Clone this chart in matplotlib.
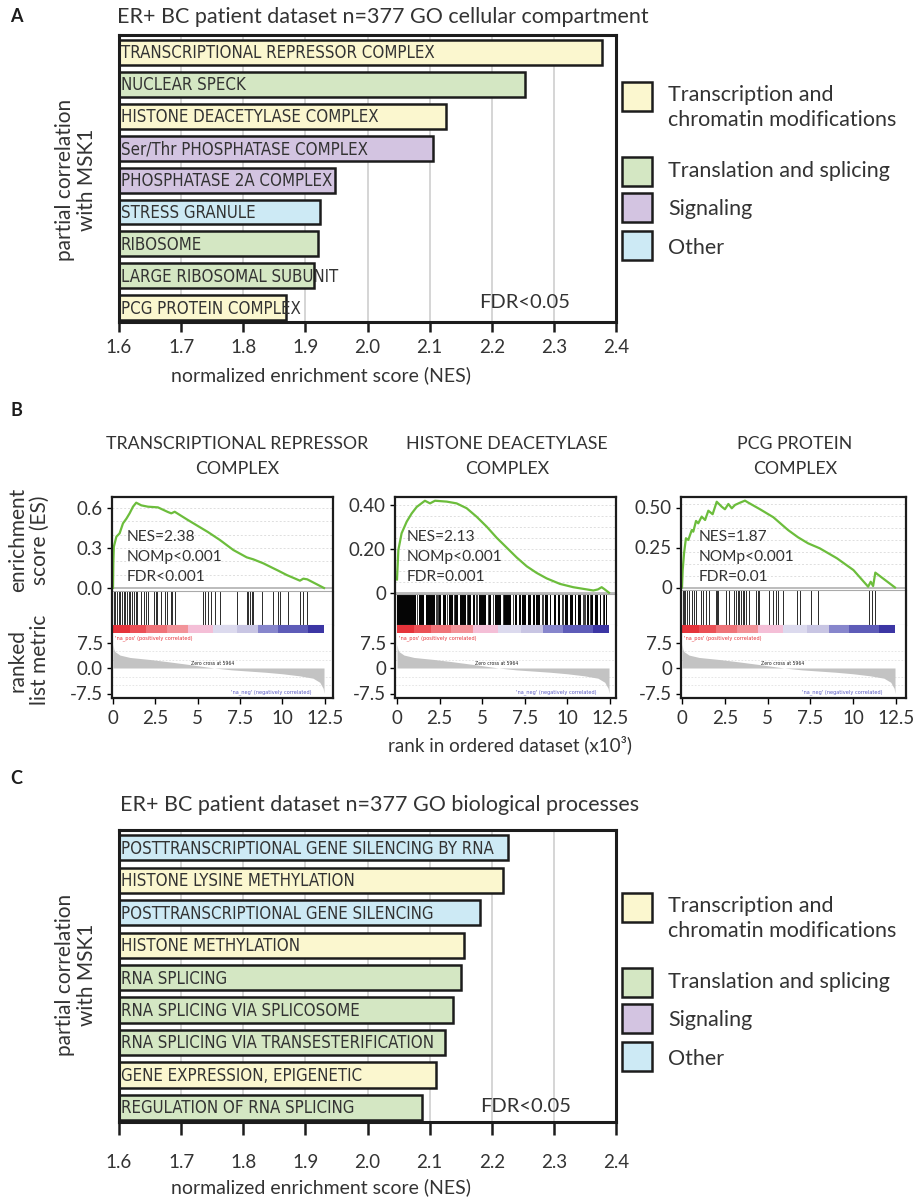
import matplotlib
matplotlib.use('Agg')
import matplotlib.pyplot as plt
from matplotlib.patches import Rectangle
import numpy as np

# ------------------------------------------------------------------ data
groups = ['Transcription and\nchromatin modifications', 'Translation and splicing', 'Signaling', 'Other']
group_colors = ['#fbf7cf', '#d4e7c3', '#d3c4e1', '#cdeaf5']

cc_terms = ['TRANSCRIPTIONAL REPRESSOR COMPLEX', 'NUCLEAR SPECK', 'HISTONE DEACETYLASE COMPLEX',
            'Ser/Thr PHOSPHATASE COMPLEX', 'PHOSPHATASE 2A COMPLEX', 'STRESS GRANULE', 'RIBOSOME',
            'LARGE RIBOSOMAL SUBUNIT', 'PCG PROTEIN COMPLEX']
cc_nes = [2.377, 2.254, 2.127, 2.106, 1.948, 1.924, 1.921, 1.914, 1.869]
cc_group = [0, 1, 0, 2, 2, 3, 1, 1, 0]

bp_terms = ['POSTTRANSCRIPTIONAL GENE SILENCING BY RNA', 'HISTONE LYSINE METHYLATION',
            'POSTTRANSCRIPTIONAL GENE SILENCING', 'HISTONE METHYLATION', 'RNA SPLICING',
            'RNA SPLICING VIA SPLICOSOME', 'RNA SPLICING VIA TRANSESTERIFICATION',
            'GENE EXPRESSION, EPIGENETIC', 'REGULATION OF RNA SPLICING']
bp_nes = [2.226, 2.218, 2.181, 2.156, 2.150, 2.138, 2.124, 2.110, 2.087]
bp_group = [3, 0, 3, 0, 1, 1, 1, 0, 1]

nes_ticks = [1.6, 1.7, 1.8, 1.9, 2.0, 2.1, 2.2, 2.3, 2.4]

# GSEA (rank in thousands)
n_rank = 12.45
zero_cross = 5.964

gs_titles = ['TRANSCRIPTIONAL REPRESSOR\nCOMPLEX', 'HISTONE DEACETYLASE\nCOMPLEX', 'PCG PROTEIN\nCOMPLEX']
gs_stats = ['NES=2.38\nNOMp<0.001\nFDR<0.001', 'NES=2.13\nNOMp<0.001\nFDR=0.001', 'NES=1.87\nNOMp<0.001\nFDR=0.01']

es1_x = [0, 0.02, 0.05, 0.2, 0.39, 0.59, 0.79, 0.98, 1.18, 1.37, 1.67, 2.06, 2.65, 3.24, 3.44, 3.64,
         4.42, 5.6, 6.31, 7.10, 7.89, 8.28, 8.87, 9.46, 9.75, 10.25, 11.03, 11.23, 11.46, 12.45]
es1_y = [0, 0.19, 0.31, 0.385, 0.41, 0.485, 0.52, 0.56, 0.61, 0.64, 0.62, 0.61, 0.605, 0.57, 0.56, 0.572,
         0.51, 0.42, 0.36, 0.285, 0.23, 0.215, 0.185, 0.148, 0.13, 0.0975, 0.055, 0.07, 0.065, 0.0]

es2_x = [0, 0.08, 0.27, 0.57, 0.86, 1.16, 1.64, 1.94, 2.23, 2.92, 3.5, 4.09, 4.68, 5.27, 5.85, 6.44,
         7.03, 7.62, 8.2, 8.79, 9.57, 10.35, 11.14, 11.53, 11.8, 12.02, 12.2, 12.45]
es2_y = [0.06, 0.194, 0.27, 0.323, 0.36, 0.39, 0.418, 0.406, 0.418, 0.414, 0.406, 0.384, 0.345, 0.30,
         0.25, 0.205, 0.16, 0.12, 0.09, 0.065, 0.04, 0.025, 0.015, 0.01, 0.015, 0.025, 0.015, 0.0]

es3_x = [0, 0.04, 0.12, 0.23, 0.37, 0.57, 0.66, 0.82, 0.95, 1.15, 1.35, 1.54, 1.79, 2.03, 2.32, 2.51,
         2.71, 2.91, 3.1, 3.39, 3.68, 3.88, 4.56, 5.34, 6.2, 6.78, 7.37, 8.05, 9.05, 10.02, 10.88,
         11.03, 11.17, 11.3, 12.45]
es3_y = [0, 0.109, 0.214, 0.308, 0.297, 0.359, 0.349, 0.416, 0.401, 0.443, 0.422, 0.48, 0.458, 0.536,
         0.505, 0.489, 0.522, 0.495, 0.516, 0.53, 0.543, 0.53, 0.489, 0.439, 0.359, 0.314, 0.276, 0.245,
         0.183, 0.109, 0.005, 0.036, 0.009, 0.093, 0.0]

hits1 = [0.04, 0.14, 0.25, 0.35, 0.43, 0.53, 0.65, 0.73, 0.84, 0.93, 1.02, 1.12, 1.22, 1.34, 1.43,
         1.67, 1.83, 1.96, 2.06, 2.40, 2.52, 2.60, 2.85, 3.05, 3.20, 3.40, 3.48, 3.64, 5.31, 5.41,
         5.60, 5.80, 6.04, 6.33, 7.33, 7.89, 7.98, 8.08, 8.22, 8.28, 8.81, 9.42, 9.75, 9.85, 10.31,
         11.03, 11.23, 11.46]
# plot 2: hits so dense they merge into solid blocks (start, end) plus isolated hits
hits2_blocks = [(0.0, 1.12), (1.27, 1.60), (1.72, 2.21), (2.49, 2.60), (2.68, 2.90), (3.07, 3.29),
                (3.39, 3.58), (3.72, 4.05), (4.17, 4.36), (4.46, 4.56), (4.80, 5.25), (5.42, 5.52),
                (5.74, 6.12), (6.27, 6.71), (6.91, 7.07), (7.14, 7.26), (7.34, 7.57), (7.69, 7.89),
                (7.97, 8.08), (8.18, 8.42), (8.67, 8.87), (8.96, 9.06), (9.20, 9.34), (9.45, 9.59),
                (9.85, 10.04), (10.18, 10.32), (10.43, 10.51), (10.63, 10.82), (11.16, 11.29),
                (11.41, 11.49), (11.65, 11.80), (11.94, 12.00), (12.14, 12.19), (12.27, 12.35)]
hits2 = [1.20, 2.28, 2.36, 2.43, 2.95, 3.35, 4.10, 4.65, 4.70, 5.35, 5.64, 6.20, 6.80, 8.50, 8.60,
         9.70, 9.75, 10.90, 11.00, 11.05, 11.35, 12.07]
hits3 = [0.04, 0.12, 0.19, 0.27, 0.43, 0.58, 0.72, 0.82, 1.11, 1.21, 1.40, 1.60, 1.99, 2.05, 2.11,
         2.57, 2.73, 3.06, 3.16, 3.26, 3.35, 3.45, 3.55, 3.65, 3.74, 3.94, 4.33, 4.43, 4.52, 5.11,
         5.30, 5.50, 5.60, 5.89, 6.74, 6.88, 7.56, 7.95, 10.92, 11.12, 11.27]

metric_x = [0, 0.05, 0.12, 0.41, 1.0, 2.18, 3.17, 4.54, 5.964, 7.0, 8.0, 9.0, 10.0, 11.0, 11.8,
            12.2, 12.4, 12.45]
metric_y = [7.0, 5.5, 4.8, 3.8, 3.1, 2.5, 1.9, 1.0, 0.0, -0.55, -0.9, -1.25, -1.7, -2.3, -3.0,
            -4.2, -6.0, -7.5]

cb_edges = [0, 1.0, 1.97, 3.2, 4.44, 5.92, 7.30, 8.57, 9.75, 11.52, 12.45]
cb_colors = ['#e5333a', '#eb5056', '#ef7479', '#f29399', '#f4bfd7', '#dcdaee', '#c8c5e3',
             '#8786cc', '#5e5cb8', '#3c36a4']

rank_ticks = [0, 2.5, 5, 7.5, 10, 12.5]
rank_labels = ['0', '2.5', '5', '7.5', '10', '12.5']
es_ticks = [[0, 0.3, 0.6], [0, 0.2, 0.4], [0, 0.25, 0.5]]
es_labels = [['0.0', '0.3', '0.6'], ['0', '0.20', '0.40'], ['0', '0.25', '0.50']]
metric_ticks = [-7.5, 0, 7.5]
metric_labels = [['-7.5', '0.0', '7.5'], ['-7.5', '0', '7.5'], ['-7.5', '0', '7.5']]

# ------------------------------------------------------------------ figure
W, H = 917, 1197
fig = plt.figure(figsize=(W / 100, H / 100), dpi=100)
plt.rcParams['font.family'] = ['Lato', 'DejaVu Sans']
TXT = '#333333'


def rect(l, t, r, b):
    return [l / W, 1 - b / H, (r - l) / W, (b - t) / H]


def ftext(x, y, s, **kw):
    kw.setdefault('color', TXT)
    return fig.text(x / W, 1 - y / H, s, **kw)


def bar_panel(box, terms, nes, grp, ticklen, tickpad):
    l, t, r, b = box
    ax = fig.add_axes(rect(l, t, r, b))
    y = np.arange(len(terms))
    vals = np.array(nes) - 1.6
    ax.barh(y, vals, left=1.6, height=0.78, color=[group_colors[g] for g in grp],
            edgecolor='#1c1c1c', linewidth=1.8, zorder=3)
    for yi, term in zip(y, terms):
        ax.text(1.603, yi + 0.03, term, va='center', ha='left', fontsize=12.1,
                family=['DejaVu Sans'], fontstretch='condensed', color=TXT, zorder=4)
    ax.set_xlim(1.6, 2.4)
    ax.set_ylim(len(terms) - 0.55, -0.55)
    ax.set_xticks(nes_ticks)
    ax.set_xticklabels([f'{v:.1f}' for v in nes_ticks])
    ax.set_yticks([])
    ax.grid(axis='x', color='#d5d5d5', linewidth=1.4, zorder=0)
    ax.set_axisbelow(True)
    for s in ax.spines.values():
        s.set_linewidth(2.2)
        s.set_color('#1c1c1c')
        s.set_zorder(5)
    ax.tick_params(axis='x', direction='out', length=ticklen, width=1.8, color='#1c1c1c',
                   labelsize=13.5, labelcolor=TXT, pad=tickpad)
    return ax


def legend_block(dy):
    squares = [(82, 111), (157, 186), (193, 222), (231, 260)]
    for (t, b), c in zip(squares, group_colors):
        fig.add_artist(Rectangle((622 / W, 1 - (b + dy) / H), 30 / W, (b - t) / H,
                                 transform=fig.transFigure, facecolor=c, edgecolor='#1c1c1c',
                                 linewidth=1.8))
    lines = [(95, 'Transcription and'), (120, 'chromatin modifications'),
             (171, groups[1]), (209, groups[2]), (248, groups[3])]
    for yy, s in lines:
        ftext(668, yy + dy, s, fontsize=15.5, va='center', ha='left')


# ---------------- panel A
ftext(10, 17, 'A', fontsize=13, fontweight='bold', va='center', color='#1c1c1c')
ftext(117, 17, 'ER+ BC patient dataset n=377 GO cellular compartment', fontsize=15.5, va='center')
bar_panel((119, 35, 616, 322), cc_terms, cc_nes, cc_group, 7, 5)
ftext(525, 303, 'FDR<0.05', fontsize=14.5, va='center', ha='center')
ftext(76, 180, 'partial correlation\nwith MSK1', fontsize=15, va='center', ha='center',
      rotation=90, linespacing=1.15)
ftext(321, 375, 'normalized enrichment score (NES)', fontsize=14, va='center', ha='center')
legend_block(0)

# ---------------- panel C
ftext(10, 778, 'C', fontsize=13, fontweight='bold', va='center', color='#1c1c1c')
ftext(120, 805, 'ER+ BC patient dataset n=377 GO biological processes', fontsize=15.5, va='center')
bar_panel((119, 830, 616, 1122), bp_terms, bp_nes, bp_group, 9, 14)
ftext(526, 1106, 'FDR<0.05', fontsize=14.5, va='center', ha='center')
ftext(76, 975, 'partial correlation\nwith MSK1', fontsize=15, va='center', ha='center',
      rotation=90, linespacing=1.15)
ftext(321, 1187, 'normalized enrichment score (NES)', fontsize=14, va='center', ha='center')
legend_block(811)

# ---------------- panel B
ftext(10, 411, 'B', fontsize=13, fontweight='bold', va='center', color='#1c1c1c')
ftext(29, 540, 'enrichment\nscore (ES)', fontsize=15, va='center', ha='center', rotation=90,
      linespacing=1.15)
ftext(29, 660, 'ranked\nlist metric', fontsize=15, va='center', ha='center', rotation=90,
      linespacing=1.15)
ftext(510, 745, 'rank in ordered dataset (x10\u00b3)', fontsize=13.5, va='center', ha='center')

# layout: (left, top, right, bottom, px of rank 0, px of last rank, ES zero px, ES px per unit, ES bottom px,
#          title centre x, stats left x)
layouts = [
    (112, 497, 333, 698, 113, 324, 588.0, 133.3, 591, 237, 127),
    (395, 497, 616, 698, 397, 609, 592.7, 220.0, 594, 507, 407),
    (681, 497, 906, 698, 682, 895, 587.5, 160.0, 590, 795, 699),
]
es_x = [es1_x, es2_x, es3_x]
es_y = [es1_y, es2_y, es3_y]
es_minor = [0.1, 0.05, 0.075]
M_ZERO, M_PPU, HIT_B, CB_B = 668.0, 3.4, 625, 634

for k, (L, T, R, B, x0, xe, ez, eppu, eb, tcx, sx) in enumerate(layouts):
    ppk = (xe - x0) / n_rank
    xl = ((L - x0) / ppk, (R - x0) / ppk)

    # ES
    ax = fig.add_axes(rect(L, T, R, eb))
    ax.set_xlim(*xl)
    ax.set_ylim((ez - eb) / eppu, (ez - T) / eppu)
    lo, hi = ax.get_ylim()
    for g in np.arange(es_minor[k], hi, es_minor[k]):
        ax.axhline(g, color='#dedede', lw=0.7, ls=(0, (2, 2)), zorder=0)
    ax.axhline(0, color='#b0b0b0', lw=1.2, zorder=1)
    ax.plot(es_x[k], es_y[k], color='#6cbd3c', lw=1.6, zorder=3)
    ax.set_xticks([])
    ax.set_yticks(es_ticks[k])
    ax.set_yticklabels(es_labels[k])
    ax.tick_params(axis='y', direction='out', length=3.5, width=1, labelsize=13.5,
                   labelcolor=TXT, pad=3)
    for s in ax.spines.values():
        s.set_visible(False)
    ftext(sx, 557, gs_stats[k], fontsize=11.2, va='center', ha='left', linespacing=1.55)
    ftext(tcx, 456.5, gs_titles[k], fontsize=12.8, va='center', ha='center', linespacing=1.75)

    # hits
    axh = fig.add_axes(rect(L, eb, R, HIT_B))
    axh.set_xlim(*xl)
    axh.set_ylim(0, 1)
    if k == 0:
        axh.vlines(hits1, 0, 1, color='#2a2a2a', lw=0.7)
    elif k == 1:
        for a, b in hits2_blocks:
            axh.axvspan(a, b, color='#050505', lw=0)
        axh.vlines(hits2, 0, 1, color='#3a3a3a', lw=0.7)
    else:
        axh.vlines(hits3, 0, 1, color='#2a2a2a', lw=0.7)
    axh.set_xticks([])
    axh.set_yticks([])
    for s in axh.spines.values():
        s.set_color('#aaaaaa')
        s.set_linewidth(0.8)

    # colour bar
    axc = fig.add_axes(rect(L, HIT_B, R, CB_B - 1))
    axc.set_xlim(*xl)
    axc.set_ylim(0, 1)
    for a, b, c in zip(cb_edges[:-1], cb_edges[1:], cb_colors):
        axc.axvspan(a, b, color=c, lw=0)
    axc.set_xticks([])
    axc.set_yticks([])
    for s in axc.spines.values():
        s.set_visible(False)

    # ranked metric
    axm = fig.add_axes(rect(L, CB_B, R, B))
    axm.set_xlim(*xl)
    axm.set_ylim((M_ZERO - B) / M_PPU, (M_ZERO - CB_B) / M_PPU)
    for g in [-5, -2.5, 2.5, 5]:
        axm.axhline(g, color='#e2e2e2', lw=0.6, ls=(0, (2, 2)), zorder=0)
    axm.fill_between(metric_x, metric_y, 0, color='#c3c3c3', lw=0, zorder=2)
    axm.text(0.12, 9.6, "'na_pos' (positively correlated)", fontsize=3.6, color='#e5333a',
             va='top', ha='left', family='DejaVu Sans')
    axm.text(zero_cross - 0.1, 0.5, 'Zero cross at 5964', fontsize=3.3, color='#222222',
             va='bottom', ha='center', family='DejaVu Sans')
    axm.text(11.7, -7.2, "'na_neg' (negatively correlated)", fontsize=3.6, color='#5b5bc4',
             va='center', ha='right', family='DejaVu Sans')
    axm.set_xticks([])
    axm.set_yticks(metric_ticks)
    axm.set_yticklabels(metric_labels[k])
    axm.tick_params(axis='y', direction='out', length=3.5, width=1, labelsize=13.5,
                    labelcolor=TXT, pad=3)
    for s in axm.spines.values():
        s.set_visible(False)

    # frame with rank axis
    axf = fig.add_axes(rect(L, T, R, B))
    axf.set_facecolor('none')
    axf.set_xlim(*xl)
    axf.set_ylim(0, 1)
    axf.set_yticks([])
    axf.set_xticks(rank_ticks)
    axf.set_xticklabels(rank_labels)
    axf.tick_params(axis='x', direction='out', length=4, width=1, labelsize=13.5,
                    labelcolor=TXT, pad=5)
    for s in axf.spines.values():
        s.set_linewidth(1.6)
        s.set_color('#1c1c1c')

fig.savefig('out.png', dpi=100)
